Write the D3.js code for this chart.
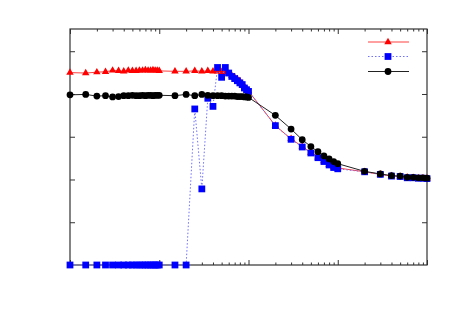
<!DOCTYPE html>
<html><head><meta charset="utf-8">
<script src="https://cdn.jsdelivr.net/npm/d3@7"></script>
<style>html,body{margin:0;padding:0;background:#fff;}svg{display:block;}</style>
</head><body>
<svg id="c" width="450" height="314"></svg>
<script>
// x values (log axis)
const xValues = [1,1.5,2,2.5,3,3.5,4,4.5,5,5.5,6,6.5,7,7.5,8,8.5,9,9.5,10,
  15,20,25,30,35,40,45,50,55,60,65,70,75,80,85,90,95,100,
  200,300,400,500,600,700,800,900,1000,
  2000,3000,4000,5000,6000,7000,8000,9000,10000];
// series 1 (red triangles)
const redValues = [4.50,4.49,4.51,4.52,4.55,4.54,4.53,4.55,4.54,4.54,4.55,4.55,4.56,4.55,4.55,4.56,4.55,4.55,4.54,
  4.53,4.53,4.54,4.53,4.54,4.53,4.53,4.52,4.50,4.47,4.43,4.39,4.35,4.30,4.24,4.17,4.12,4.07,
  3.26,2.95,2.77,2.63,2.52,2.43,2.35,2.29,2.27,
  2.18,2.12,2.08,2.07,2.05,2.04,2.03,2.03,2.02];
// series 2 (blue squares)
const blueValues = [0,0,0,0,0,0,0,0,0,0,0,0,0,0,0,0,0,0,0,
  0,0,3.65,1.78,3.90,3.71,4.62,4.39,4.62,4.49,4.41,4.36,4.31,4.26,4.22,4.14,4.10,4.06,
  3.26,2.94,2.76,2.62,2.51,2.42,2.34,2.28,2.25,
  2.18,2.12,2.08,2.07,2.04,2.04,2.03,2.03,2.02];
// series 3 (black circles)
const blackValues = [3.98,3.99,3.95,3.96,3.93,3.94,3.96,3.96,3.97,3.96,3.96,3.97,3.96,3.97,3.97,3.96,3.97,3.97,3.97,
  3.96,3.99,3.96,3.99,3.97,3.96,3.96,3.96,3.95,3.95,3.95,3.95,3.94,3.94,3.94,3.93,3.93,3.92,
  3.50,3.18,2.93,2.77,2.65,2.55,2.48,2.42,2.37,
  2.19,2.13,2.09,2.08,2.05,2.05,2.04,2.04,2.03];
const yTicks = [1,2,3,4,5];

const L=70,R=427,T=29,B=265;
const svg = d3.select("#c");
const x = d3.scaleLog().domain([1,10000]).range([L,R]);
const y = d3.scaleLinear().domain([0,5.52]).range([B,T]);

const majors = [1,10,100,1000,10000];
const minors = [];
[1,10,100,1000].forEach(d=>{for(let k=2;k<=9;k++)minors.push(d*k);});

const axG = svg.append("g");
function styleAxis(g){g.select(".domain").remove();g.selectAll("line").attr("stroke","#333").attr("stroke-width",1);g.selectAll("text").remove();}
axG.append("g").attr("transform",`translate(0,${B})`).call(d3.axisBottom(x).tickValues(majors).tickSize(-5).tickFormat("")).call(styleAxis);
axG.append("g").attr("transform",`translate(0,${B})`).call(d3.axisBottom(x).tickValues(minors).tickSize(-2.5).tickFormat("")).call(styleAxis);
axG.append("g").attr("transform",`translate(0,${T})`).call(d3.axisTop(x).tickValues(majors).tickSize(-5).tickFormat("")).call(styleAxis);
axG.append("g").attr("transform",`translate(0,${T})`).call(d3.axisTop(x).tickValues(minors).tickSize(-2.5).tickFormat("")).call(styleAxis);
axG.append("g").attr("transform",`translate(${L},0)`).call(d3.axisLeft(y).tickValues(yTicks).tickSize(-5).tickFormat("")).call(styleAxis);
axG.append("g").attr("transform",`translate(${R},0)`).call(d3.axisRight(y).tickValues(yTicks).tickSize(-5).tickFormat("")).call(styleAxis);

svg.append("rect").attr("x",L).attr("y",T).attr("width",R-L).attr("height",B-T)
  .attr("fill","none").attr("stroke","#333").attr("stroke-width",1.2);

const series = [
  {vals:redValues, color:"#ff0000", line:"#ff4040", dash:null, lw:1, sym:d3.symbolTriangle, size:24},
  {vals:blueValues, color:"#0000ff", line:"#7070ff", dash:"1.5,2", lw:1, sym:d3.symbolSquare, size:46},
  {vals:blackValues, color:"#000000", line:"#222", dash:null, lw:1, sym:d3.symbolCircle, size:36}
];
const lineGen = d3.line().x(d=>x(d[0])).y(d=>y(d[1]));
series.forEach(s=>{
  const pts = xValues.map((v,i)=>[v,s.vals[i]]);
  const g = svg.append("g");
  g.append("path").attr("d",lineGen(pts)).attr("fill","none").attr("stroke",s.line)
    .attr("stroke-width",s.lw).attr("stroke-dasharray",s.dash);
  g.selectAll("path.m").data(pts).enter().append("path").attr("class","m")
    .attr("transform",d=>`translate(${x(d[0])},${y(d[1])})`)
    .attr("d",d3.symbol().type(s.sym).size(s.size)).attr("fill",s.color);
});

// legend (samples only)
const legRows=[42,56.5,71.5];
series.forEach((s,i)=>{
  const g=svg.append("g");
  g.append("line").attr("x1",368).attr("x2",409).attr("y1",legRows[i]).attr("y2",legRows[i])
    .attr("stroke",s.line).attr("stroke-width",s.lw).attr("stroke-dasharray",s.dash);
  g.append("path").attr("transform",`translate(388,${legRows[i]})`)
    .attr("d",d3.symbol().type(s.sym).size(s.size)).attr("fill",s.color);
});
</script>
</body></html>
